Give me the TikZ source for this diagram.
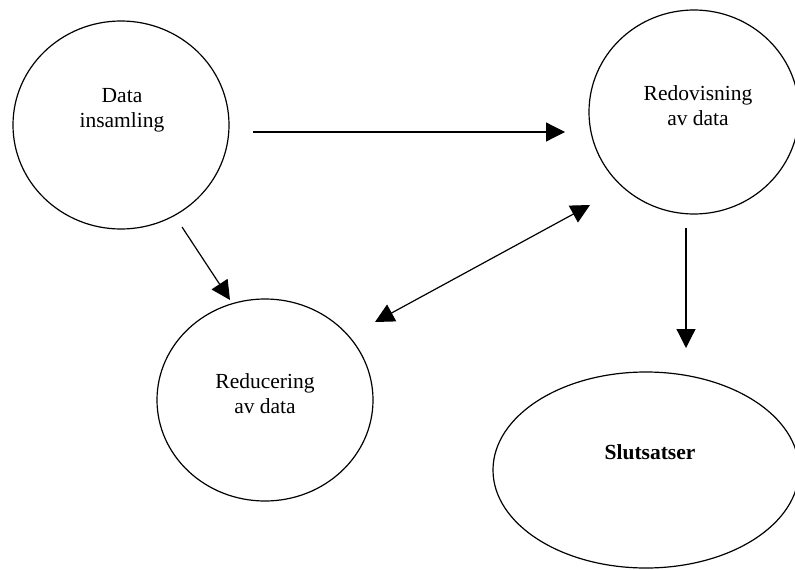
\documentclass[tikz,border=0pt]{standalone}
\usepackage{fontspec}
\setmainfont{Liberation Serif}
\usetikzlibrary{arrows.meta,shapes.geometric}

\tikzset{
  bubble/.style={draw,ellipse,line width=1.2pt,inner sep=0pt},
  txt/.style={align=center,font=\fontsize{21.5}{25}\selectfont},
  tip/.tip={Triangle[length=19pt,width=19pt]},
  arr/.style={-tip,line width=1.2pt}
}

\begin{document}
\begin{tikzpicture}[x=1pt,y=-1pt]
    % page frame (pixel grid of the reference)
    \useasboundingbox (0,0) rectangle (795,570);
    \clip (0,0) rectangle (795,570);

    % 1) The four ellipses
    \node[bubble,minimum width=216,minimum height=208] (data) at (121,125) {};
    \node[bubble,minimum width=210,minimum height=204] (redo) at (694,112) {};
    \node[bubble,minimum width=216,minimum height=202] (redu) at (265,400) {};
    \node[bubble,minimum width=306,minimum height=196] (slut) at (646,470) {};

    % 2) Their texts
    \node[txt] (data-t) at (122,110) {Data\\insamling};
    \node[txt] (redo-t) at (698,106) {Redovisning\\av data};
    \node[txt] (redu-t) at (265,394) {Reducering\\av data};
    \node[txt,font=\fontsize{21.5}{25}\selectfont\bfseries] (slut-t) at (650,452) {Slutsatser};

    % 3) End points of the arrows
    \coordinate (data-e) at (253,132);
    \coordinate (redo-w) at (565,132);
    \coordinate (data-s) at (182,227);
    \coordinate (redu-n) at (230,300);
    \coordinate (redu-ne) at (375,322);
    \coordinate (redo-sw) at (590,205);
    \coordinate (redo-s) at (686,228);
    \coordinate (slut-n) at (686,348);

    % 4) The arrows
    \draw[arr] (data-e) -- (redo-w);
    \draw[arr] (data-s) -- (redu-n);
    \draw[arr,tip-tip] (redu-ne) -- (redo-sw);
    \draw[arr] (redo-s) -- (slut-n);
\end{tikzpicture}
\end{document}
